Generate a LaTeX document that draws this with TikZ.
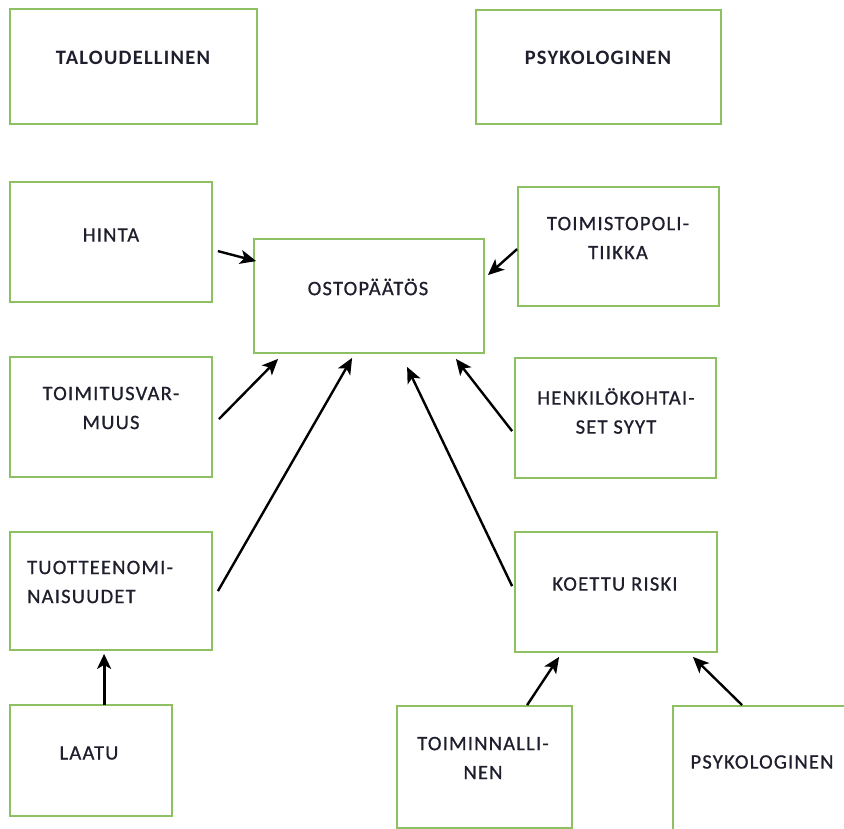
\documentclass[tikz,border=0pt]{standalone}
\usepackage{fontspec}
\setmainfont{Carlito}[LetterSpace=6]
\newfontfamily\lblfont{Carlito}[LetterSpace=6,FakeBold=0.7]
\usetikzlibrary{arrows.meta,calc}
\definecolor{boxgreen}{RGB}{140,192,98}
\definecolor{txt}{RGB}{30,30,45}
\tikzset{
  box/.style={draw=boxgreen, line width=1.8pt, rectangle, inner sep=0pt, fill=white},
  lbl/.style={text=txt, font=\fontsize{20.5}{29}\selectfont\lblfont, inner sep=0pt, align=center},
  blbl/.style={lbl, font=\fontsize{20.5}{29}\selectfont\rmfamily\bfseries},
  arr/.style={draw=black, line width=2.4pt, -{Stealth[length=16pt,width=14pt,inset=4pt]}},
  thickarr/.style={draw=black, line width=3.2pt, -{Stealth[length=15pt,width=14pt,inset=4pt]}}
}
\begin{document}
\begin{tikzpicture}[x=1pt,y=-1pt]
\useasboundingbox (0,0) rectangle (844,829);
\clip (0,0) rectangle (844,829);
% boxes
\node[box, minimum width=247pt, minimum height=115pt] (tal) at (133.5,66.5) {};
\node[box, minimum width=245pt, minimum height=114pt] (psy) at (598.5,67) {};
\node[box, minimum width=202pt, minimum height=120pt] (hinta) at (111,242) {};
\node[box, minimum width=230pt, minimum height=114pt] (osto) at (369,296) {};
\node[box, minimum width=201pt, minimum height=119pt] (tpol) at (618.5,246.5) {};
\node[box, minimum width=202pt, minimum height=120pt] (tvar) at (111,417) {};
\node[box, minimum width=201pt, minimum height=120pt] (henk) at (615.5,418) {};
\node[box, minimum width=202pt, minimum height=118pt] (tuot) at (111,591) {};
\node[box, minimum width=202pt, minimum height=120pt] (koet) at (616,592) {};
\node[box, minimum width=162pt, minimum height=111pt] (laatu) at (91,760.5) {};
\node[box, minimum width=175pt, minimum height=122pt] (toim) at (484.5,767) {};
\node[box, minimum width=190pt, minimum height=140pt] (psyk) at (768,776) {};
% texts
\node[blbl] (talT) at (133,58) {TALOUDELLINEN};
\node[blbl] (psyT) at (598,58) {PSYKOLOGINEN};
\node[lbl] (hintaT) at (111,235) {HINTA};
\node[lbl] (ostoT) at (368,287) {OSTOPÄÄTÖS};
\node[lbl] (tpolT) at (618,238) {TOIMISTOPOLI-\\TIIKKA};
\node[lbl] (tvarT) at (111,408) {TOIMITUSVAR-\\MUUS};
\node[lbl] (henkT) at (616,411) {HENKILÖKOHTAI-\\SET SYYT};
\node[lbl, align=left, anchor=west] (tuotT) at (27,582) {TUOTTEENOMI-\\NAISUUDET};
\node[lbl] (koetT) at (615,584) {KOETTU RISKI};
\node[lbl] (laatuT) at (89,753) {LAATU};
\node[lbl] (toimT) at (483,758) {TOIMINNALLI-\\NEN};
\node[lbl] (psykT) at (762,762) {PSYKOLOGINEN};
% arrows
\draw[arr] ($(hinta.north east)+(5,70)$) -- ($(osto.north west)+(3,23)$);
\draw[arr] ($(tpol.north west)+(0,63)$) -- ($(osto.north east)+(3,37)$);
\draw[arr] ($(tvar.north east)+(6,63)$) -- ($(osto.south west)+(25,5)$);
\draw[arr] ($(tuot.north east)+(5,60)$) -- ($(osto.south west)+(99,4)$);
\draw[arr] ($(koet.north west)+(-2,55)$) -- ($(osto.south west)+(154,13)$);
\draw[arr] ($(henk.north west)+(-2,74)$) -- ($(osto.south east)+(-29,5)$);
\draw[thickarr] ($(laatu.north west)+(95,1)$) -- ($(tuot.south west)+(95,3)$);
\draw[arr] ($(toim.north west)+(131,0)$) -- ($(koet.south west)+(45,4)$);
\draw[arr] ($(psyk.north west)+(70,0)$) -- ($(koet.south east)+(-25,4)$);
\end{tikzpicture}
\end{document}
